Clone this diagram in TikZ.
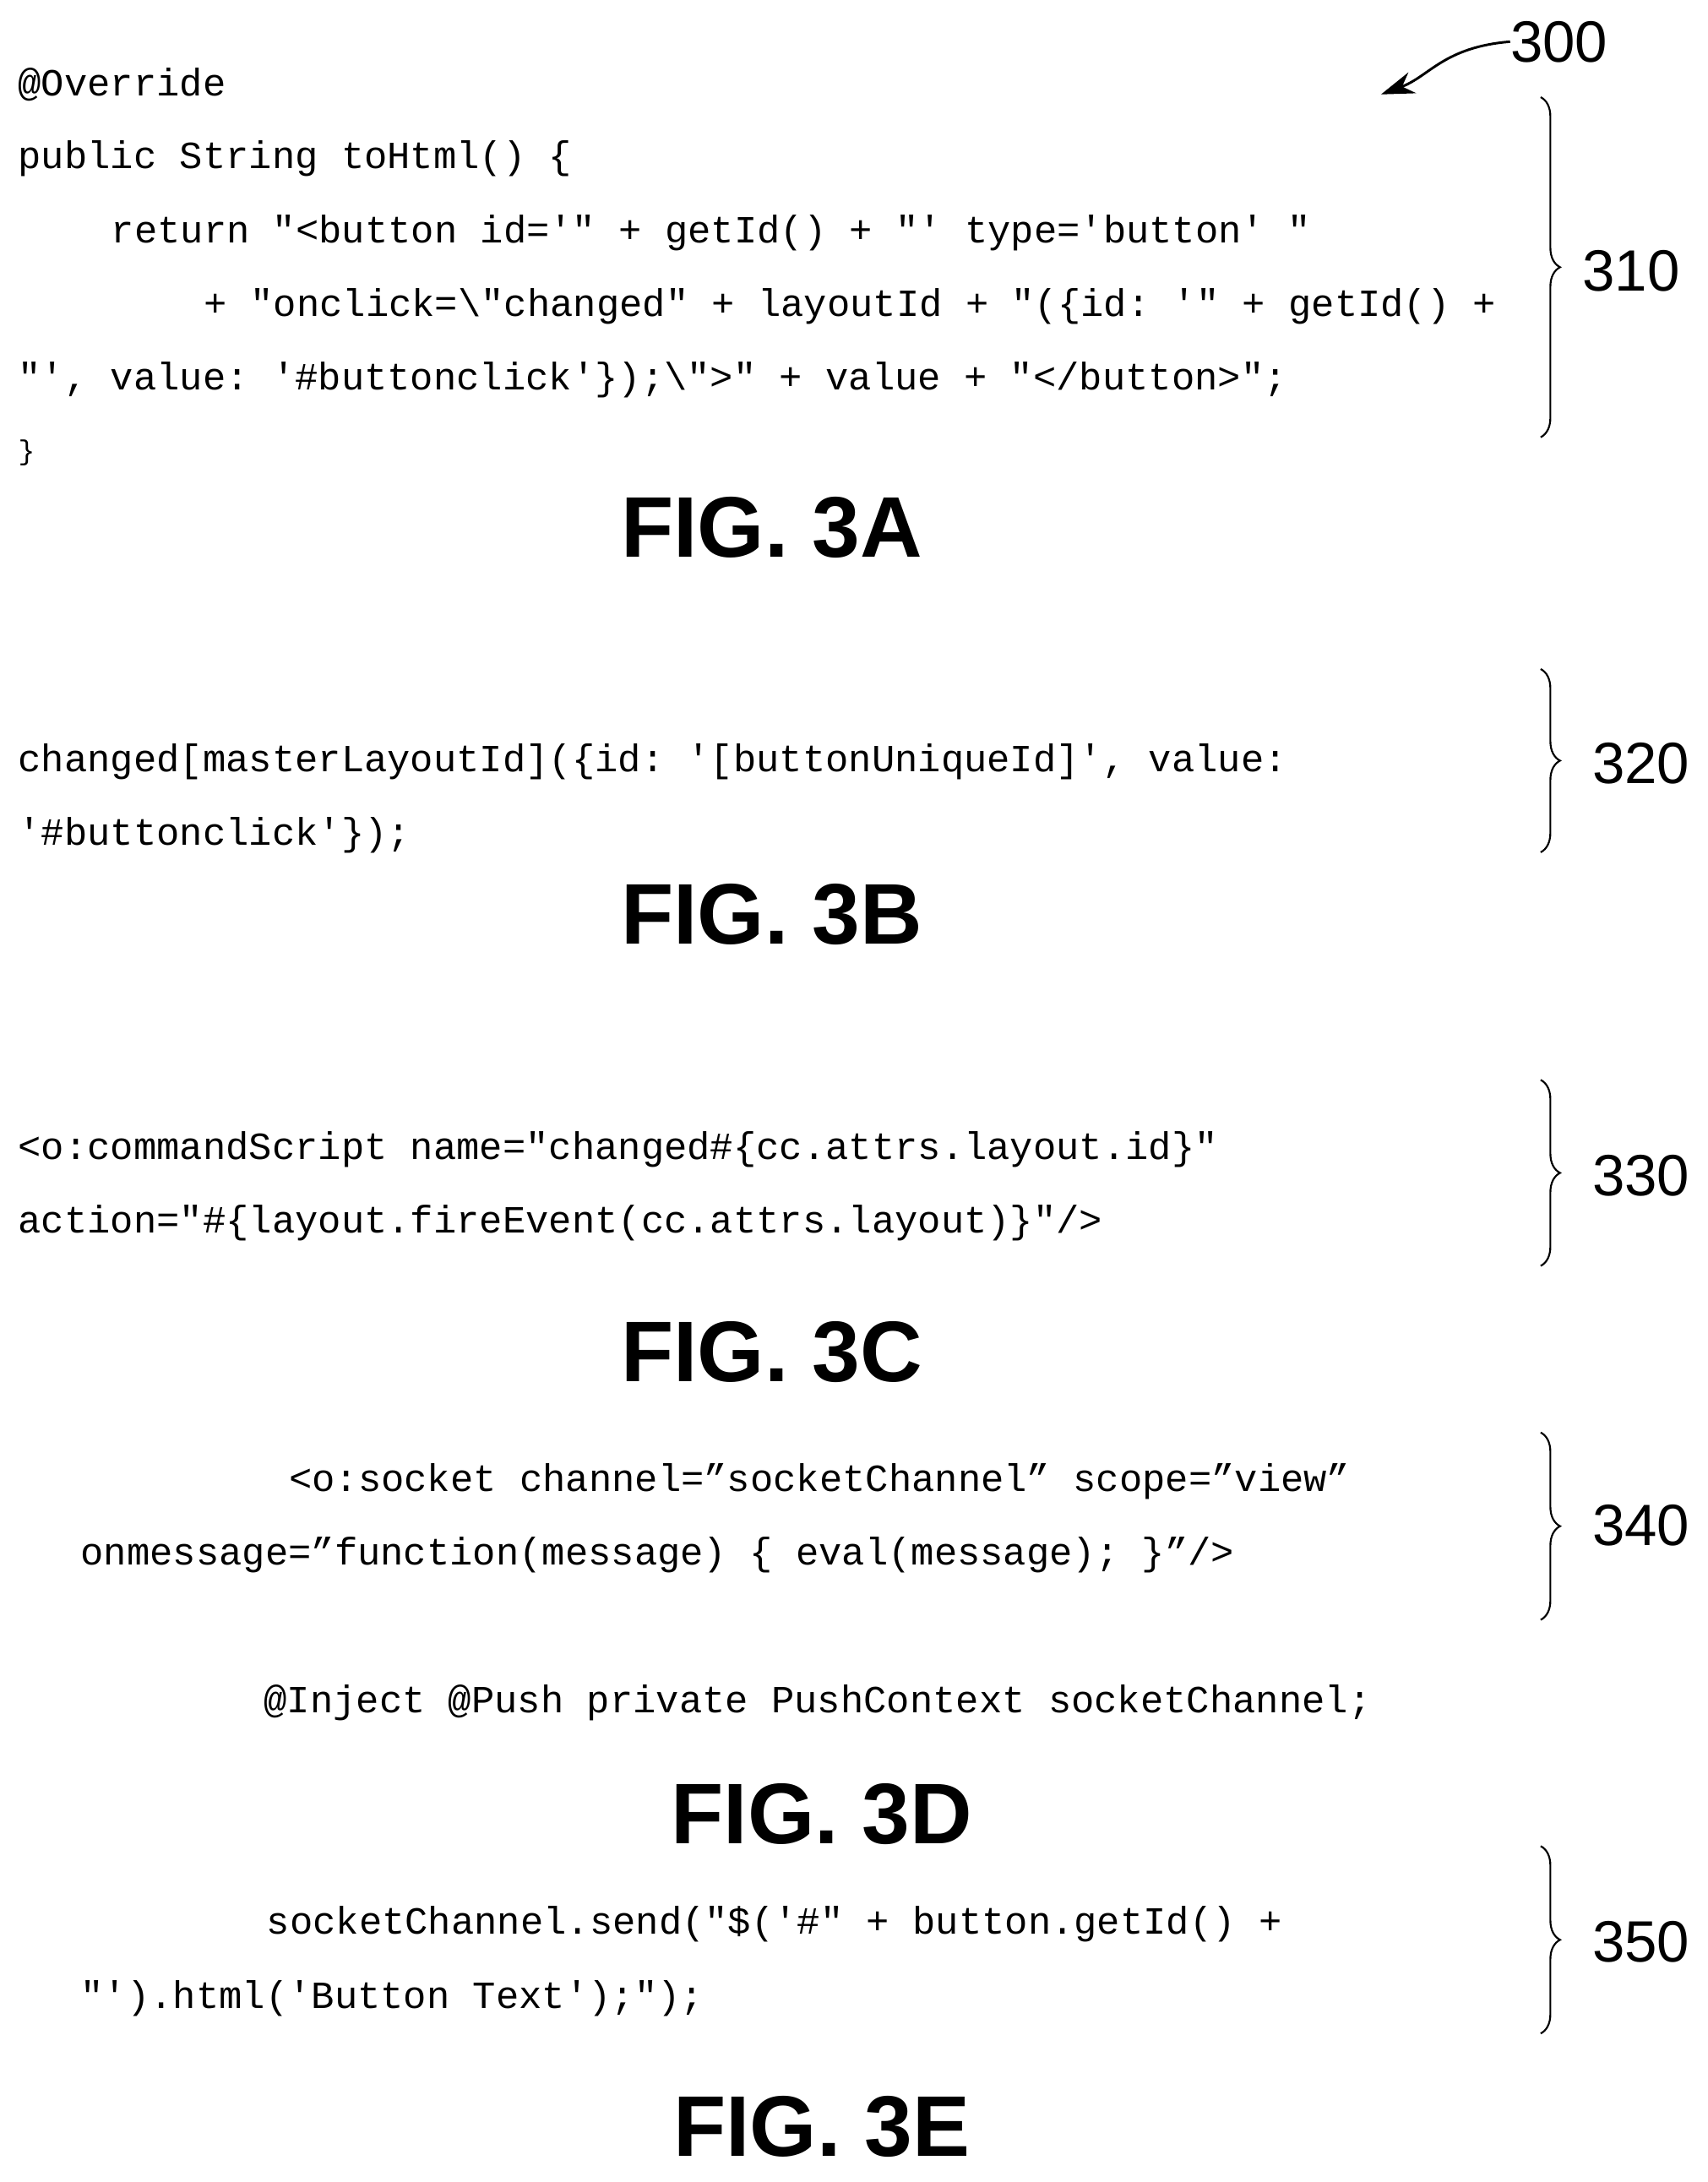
\documentclass[tikz,border=0pt]{standalone}
\usepackage{fontspec}
\setmainfont{Liberation Sans}
\setmonofont{Liberation Mono}
\usetikzlibrary{decorations.pathreplacing,arrows.meta}
\begin{document}
\begin{tikzpicture}[x=1pt,y=-1pt,
 code/.style={anchor=west,inner sep=0pt,font=\fontsize{27.7}{30}\selectfont\ttfamily},
 ref/.style={anchor=west,inner sep=0pt,font=\fontsize{42}{44}\selectfont},
 fig/.style={inner sep=0pt,font=\fontsize{62}{64}\selectfont\bfseries},
 br/.style={decorate,decoration={brace,amplitude=14pt},line width=1.3pt}]
\useasboundingbox (0,0) rectangle (1230,1572);
% 3A
\node[code] (a1) at (13,61) {@Override};
\node[code] (a2) at (13,114) {public String toHtml() \{};
\node[code] (a3) at (80,168) {return "<button id='" + getId() + "' type='button' "};
\node[code] (a4) at (147,221) {+ "onclick=\textbackslash"changed" + layoutId + "(\{id: '" + getId() +};
\node[code] (a5) at (13,274) {"', value: '\#buttonclick'\});\textbackslash">" + value + "</button>";};
\node[code,font=\fontsize{20}{22}\selectfont\ttfamily] (a6) at (13,326) {\}};
\draw[br] (1110,70) -- (1110,315);
\node[ref] (r310) at (1140,195) {310};
\node[ref] (r300) at (1088,30) {300};
\coordinate (t300) at (995,68);
\draw[line width=1.8pt,-{Stealth[length=24pt,width=16pt]}] (r300.west) .. controls (1040,34) and (1030,55) .. (t300);
\node[fig] (fa) at (556,380) {FIG. 3A};
% 3B
\node[code] (b1) at (13,549) {changed[masterLayoutId](\{id: '[buttonUniqueId]', value:};
\node[code] (b2) at (13,602) {'\#buttonclick'\});};
\draw[br] (1110,482) -- (1110,614);
\node[ref] (r320) at (1147,550) {320};
\node[fig] (fb) at (556,659) {FIG. 3B};
% 3C
\node[code] (c1) at (13,828) {<o:commandScript name="changed\#\{cc.attrs.layout.id\}"};
\node[code] (c2) at (13,881) {action="\#\{layout.fireEvent(cc.attrs.layout)\}"/>};
\draw[br] (1110,778) -- (1110,912);
\node[ref] (r330) at (1147,847) {330};
\node[fig] (fc) at (556,974) {FIG. 3C};
% 3D
\node[code] (d1) at (208,1067) {<o:socket channel=”socketChannel” scope=”view”};
\node[code] (d2) at (58,1120) {onmessage=”function(message) \{ eval(message); \}”/>};
\draw[br] (1110,1032) -- (1110,1167);
\node[ref] (r340) at (1147,1099) {340};
\node[code] (d3) at (190,1227) {@Inject @Push private PushContext socketChannel;};
\node[fig] (fd) at (592,1307) {FIG. 3D};
% 3E
\node[code] (e1) at (192,1386) {socketChannel.send("\$('\#" + button.getId() +};
\node[code] (e2) at (58,1440) {"').html('Button Text');");};
\draw[br] (1110,1330) -- (1110,1465);
\node[ref] (r350) at (1147,1399) {350};
\node[fig] (fe) at (592,1532) {FIG. 3E};
\end{tikzpicture}
\end{document}
